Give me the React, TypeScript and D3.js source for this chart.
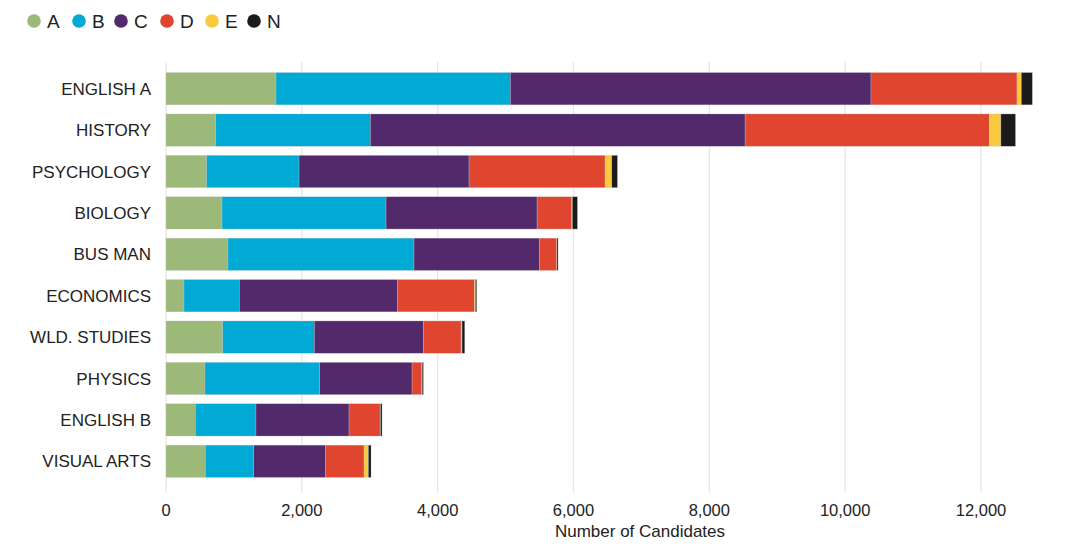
import React from "react";
import * as d3 from "d3";

const subjects = ["ENGLISH A", "HISTORY", "PSYCHOLOGY", "BIOLOGY", "BUS MAN", "ECONOMICS", "WLD. STUDIES", "PHYSICS", "ENGLISH B", "VISUAL ARTS"];
const grades = ["A", "B", "C", "D", "E", "N"];
const gradeA = [1620, 732, 599, 825, 913, 265, 835, 574, 432, 579];
const gradeB = [3450, 2277, 1360, 2415, 2739, 815, 1349, 1690, 893, 712];
const gradeC = [5310, 5518, 2503, 2224, 1846, 2332, 1606, 1359, 1370, 1055];
const gradeD = [2150, 3594, 2003, 511, 256, 1129, 555, 143, 457, 570];
const gradeE = [64, 172, 99, 9, 3, 15, 14, 6, 6, 64];
const gradeN = [162, 215, 83, 74, 16, 19, 40, 18, 23, 39];
const xTicks = [0, 2000, 4000, 6000, 8000, 10000, 12000];
const colors = ["#9cb97a", "#00aad5", "#52296a", "#e0462f", "#f9ca3f", "#1b1b1b"];

const W = 1080, H = 559;
const FONT = "'Liberation Sans', Arial, Helvetica, sans-serif";

export default function App() {
  const series = [gradeA, gradeB, gradeC, gradeD, gradeE, gradeN];
  const rows = subjects.map((s, i) => {
    const r: any = { subject: s };
    grades.forEach((g, j) => (r[g] = series[j][i]));
    return r;
  });
  const stacked = d3.stack().keys(grades)(rows);

  const x = d3.scaleLinear().domain([0, 12000]).range([166, 981]);
  const y = d3.scaleBand().domain(subjects).range([68, 482]).paddingInner(0.22).paddingOuter(0.11);

  const legendX = [34, 79, 121, 167, 212, 254];

  return (
    <svg width={W} height={H} style={{ position: "absolute", left: 0, top: 0, background: "#fff" }} fontFamily={FONT}>
      {/* legend */}
      {grades.map((g, i) => (
        <g key={g}>
          <circle cx={legendX[i]} cy={21} r={6.8} fill={colors[i]} />
          <text x={legendX[i] + 13} y={27.5} fontSize={19} fill="#222">{g}</text>
        </g>
      ))}
      {/* grid */}
      {xTicks.map((t) => (
        <line key={t} x1={x(t)} x2={x(t)} y1={62} y2={493} stroke="#e6e6e6" strokeWidth={1.3} />
      ))}
      {/* bars */}
      {stacked.map((layer, li) => (
        <g key={layer.key} fill={colors[li]}>
          {layer.map((d, i) => (
            <rect
              key={i}
              x={x(d[0])}
              y={y(subjects[i])}
              width={Math.max(0, x(d[1]) - x(d[0]))}
              height={y.bandwidth()}
              stroke="rgba(200,200,200,0.6)"
              strokeWidth={0.5}
            />
          ))}
        </g>
      ))}
      {/* category labels */}
      {subjects.map((s) => (
        <text key={s} x={151} y={(y(s) as number) + y.bandwidth() / 2 + 6} textAnchor="end" fontSize={17} fill="#222">{s}</text>
      ))}
      {/* tick labels */}
      {xTicks.map((t) => (
        <text key={t} x={x(t)} y={516} textAnchor="middle" fontSize={16.5} fill="#222">{d3.format(",")(t)}</text>
      ))}
      <text x={640} y={537} textAnchor="middle" fontSize={17} fill="#222">Number of Candidates</text>
    </svg>
  );
}
